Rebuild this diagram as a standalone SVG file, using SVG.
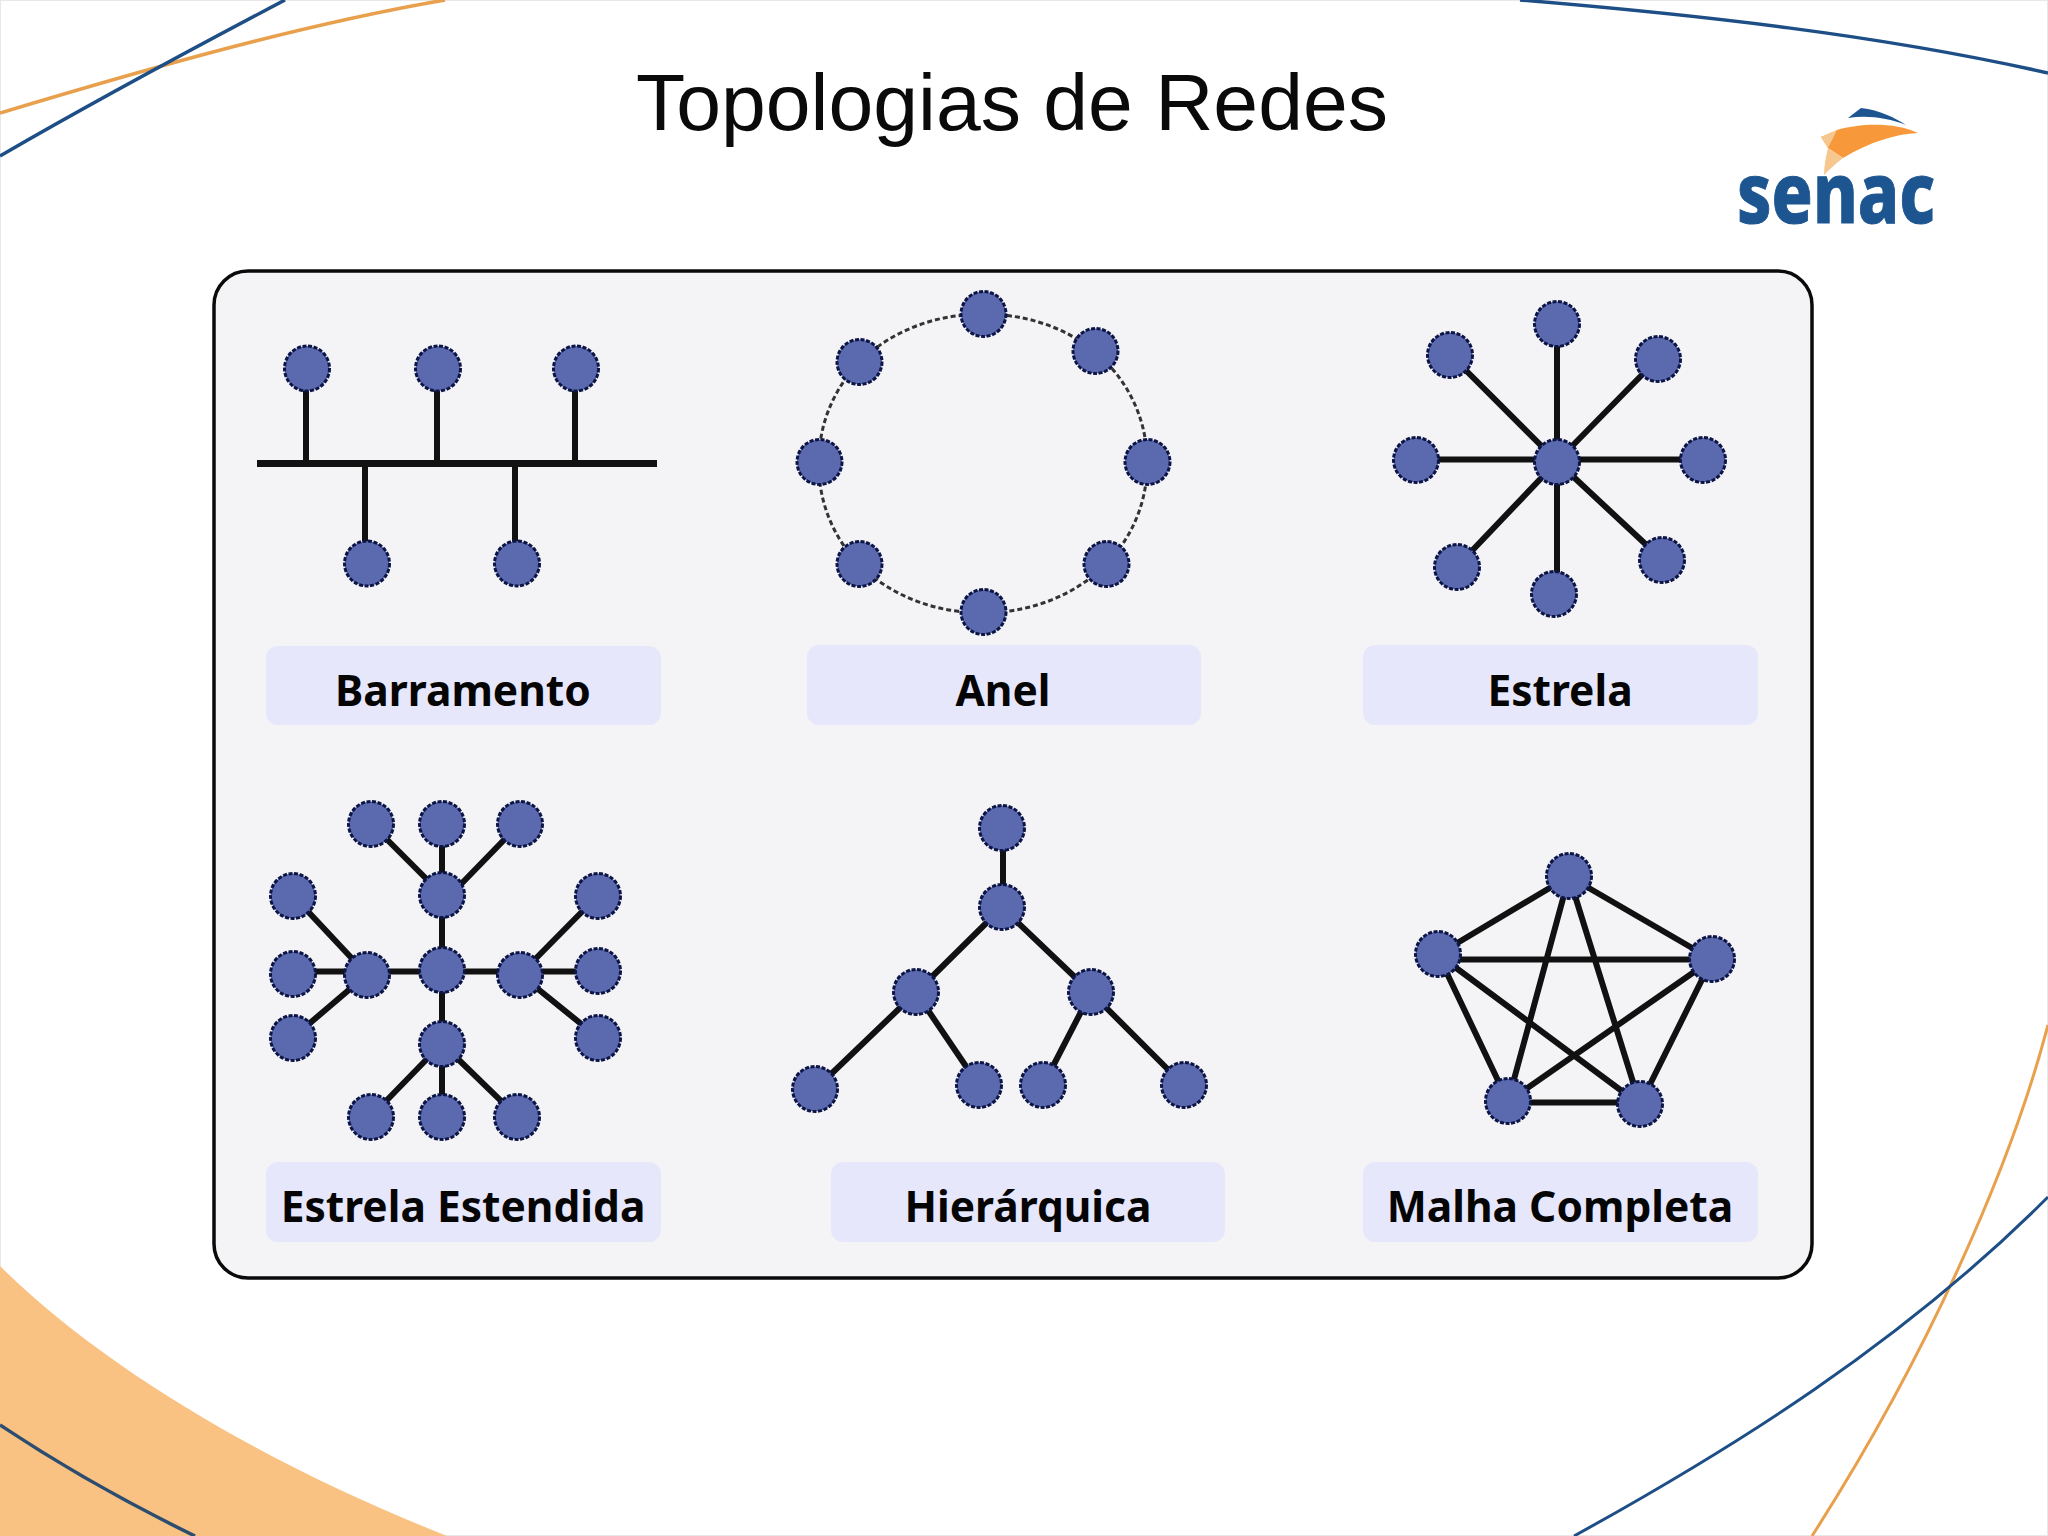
<svg xmlns="http://www.w3.org/2000/svg" width="2048" height="1536" viewBox="0 0 2048 1536">
<style>
.n{fill:#5b69ae;stroke:#0c1545;stroke-width:3;stroke-dasharray:4 1.6}
.c{stroke:#111;stroke-width:6;fill:none;stroke-linecap:butt}
.r{fill:none;stroke:#333;stroke-width:3;stroke-dasharray:5 3}
.lb{fill:#e6e7fb}
.t{font-family:"Noto Sans","Open Sans",sans-serif;font-weight:700;font-size:42.5px;fill:#050505;text-anchor:middle}
.deco{fill:none;stroke-width:3.5}
.bl{stroke:#1d4f86}
.or{stroke:#e9a04c}
</style>
<rect x="0.5" y="0.5" width="2047" height="1535" fill="#fff" stroke="#e8e8e8"/>
<g id="decor">
<path d="M0 1266C110 1375 280 1470 447 1536L0 1536Z" fill="#f9c282"/>
<path class="deco" style="stroke:#2d4d70" d="M0 1425C60 1465 125 1502 195 1536"/>
<path class="deco or" d="M0 113C150 68 300 25 445 0"/>
<path class="deco bl" d="M0 156C100 98 190 50 285 0"/>
<path class="deco bl" d="M1520 0C1700 15 1880 35 2048 73"/>
<path class="deco or" style="stroke-width:3" d="M2048 1025C2010 1170 1925 1360 1812 1536"/>
<path class="deco bl" style="stroke-width:3" d="M2048 1197C1900 1345 1730 1450 1574 1536"/>
</g>
<g id="title"><text x="1012" y="130" font-family="'Liberation Sans',Arial,sans-serif" font-size="80.5" fill="#0a0a0a" text-anchor="middle">Topologias de Redes</text></g>
<g id="logo">
<path d="M1848 118L1861 108C1880 110 1895 118 1906 125C1888 118 1868 115 1848 118Z" fill="#1d5590"/>
<path d="M1821 137L1837 130C1860 123 1895 122 1918 133C1895 134 1870 142 1843 158L1828 148Z" fill="#f7993b"/>
<path d="M1821 137L1837 130L1828 148ZM1828 148L1843 158C1835 164 1829 170 1824 175C1824 165 1826 156 1828 148Z" fill="#f6c88f"/>
<text x="1737" y="223" font-family="'Noto Sans',sans-serif" font-weight="800" font-size="84" textLength="198" lengthAdjust="spacingAndGlyphs" fill="#1d5590" stroke="#1d5590" stroke-width="1">senac</text>
</g>
<rect id="panel" x="214" y="271" width="1598" height="1007" rx="34" fill="#f4f4f6" stroke="#0a0a0a" stroke-width="3.5"/>
<g id="connectors" transform="translate(0 0.5)">
<path class="c" style="stroke-width:7" d="M257 463H657"/>
<path class="c" d="M306 368V463M437 368V463M575 368V463M365 463V563M515 463V563"/>
<path class="r" d="M983 314A164 150 0 0 1 1095 351M1095 351A164 150 0 0 1 1147 462M1147 462A164 150 0 0 1 1106 564M1106 564A164 150 0 0 1 983 612M983 612A164 150 0 0 1 859 564M859 564A164 150 0 0 1 819 462M819 462A164 150 0 0 1 859 362M859 362A164 150 0 0 1 983 314"/>
<path class="c" d="M1557 461V323M1557 461L1450 354M1557 461L1658 358M1416 459H1703M1557 461L1457 566M1557 461V593M1557 461L1662 559"/>
<path class="c" d="M442 823V1116M293 971H598M371 823L442 894M520 823L449 896M293 895L367 974M293 1037L367 974M598 895L520 974M598 1037L520 974M371 1116L442 1043M517 1116L442 1043"/>
<path class="c" d="M1003 828V907M1002 907L916 992M1002 907L1091 992M916 992L815 1089M916 992L979 1085M1091 992L1043 1085M1091 992L1184 1085"/>
<path class="c" d="M1569 876L1438 954M1569 876L1712 959M1438 959H1712M1438 954L1508 1101M1438 954L1640 1104M1569 876L1508 1101M1569 876L1640 1104M1712 959L1508 1101M1712 959L1640 1104M1508 1102H1640"/>
</g>
<g id="bus-nodes" transform="translate(0 0.5)">
<g id="bus-1"><circle class="n" cx="307" cy="368" r="22.5"/></g>
<g id="bus-2"><circle class="n" cx="438" cy="368" r="22.5"/></g>
<g id="bus-3"><circle class="n" cx="576" cy="368" r="22.5"/></g>
<g id="bus-4"><circle class="n" cx="367" cy="563" r="22.5"/></g>
<g id="bus-5"><circle class="n" cx="517" cy="563" r="22.5"/></g>
</g>
<g id="ring-nodes" transform="translate(0.5 1)">
<g id="ring-1"><circle class="n" cx="983" cy="313" r="22.5"/></g>
<g id="ring-2"><circle class="n" cx="1095" cy="350" r="22.5"/></g>
<g id="ring-3"><circle class="n" cx="1147" cy="461" r="22.5"/></g>
<g id="ring-4"><circle class="n" cx="1106" cy="563" r="22.5"/></g>
<g id="ring-5"><circle class="n" cx="983" cy="611" r="22.5"/></g>
<g id="ring-6"><circle class="n" cx="859" cy="563" r="22.5"/></g>
<g id="ring-7"><circle class="n" cx="819" cy="461" r="22.5"/></g>
<g id="ring-8"><circle class="n" cx="859" cy="361" r="22.5"/></g>
</g>
<g id="star-nodes" transform="translate(0 1)">
<g id="star-c"><circle class="n" cx="1557" cy="461" r="22.5"/></g>
<g id="star-1"><circle class="n" cx="1557" cy="323" r="22.5"/></g>
<g id="star-2"><circle class="n" cx="1450" cy="354" r="22.5"/></g>
<g id="star-3"><circle class="n" cx="1658" cy="358" r="22.5"/></g>
<g id="star-4"><circle class="n" cx="1416" cy="459" r="22.5"/></g>
<g id="star-5"><circle class="n" cx="1703" cy="459" r="22.5"/></g>
<g id="star-6"><circle class="n" cx="1457" cy="566" r="22.5"/></g>
<g id="star-7"><circle class="n" cx="1554" cy="593" r="22.5"/></g>
<g id="star-8"><circle class="n" cx="1662" cy="559" r="22.5"/></g>
</g>
<g id="ext-nodes" transform="translate(0 1)">
<g id="ext-c"><circle class="n" cx="442" cy="969" r="22.5"/></g>
<g id="ext-t"><circle class="n" cx="442" cy="894" r="22.5"/></g>
<g id="ext-b"><circle class="n" cx="442" cy="1043" r="22.5"/></g>
<g id="ext-l"><circle class="n" cx="367" cy="974" r="22.5"/></g>
<g id="ext-r"><circle class="n" cx="520" cy="974" r="22.5"/></g>
<g id="ext-t1"><circle class="n" cx="371" cy="823" r="22.5"/></g>
<g id="ext-t2"><circle class="n" cx="442" cy="823" r="22.5"/></g>
<g id="ext-t3"><circle class="n" cx="520" cy="823" r="22.5"/></g>
<g id="ext-l1"><circle class="n" cx="293" cy="895" r="22.5"/></g>
<g id="ext-l2"><circle class="n" cx="293" cy="973" r="22.5"/></g>
<g id="ext-l3"><circle class="n" cx="293" cy="1037" r="22.5"/></g>
<g id="ext-r1"><circle class="n" cx="598" cy="895" r="22.5"/></g>
<g id="ext-r2"><circle class="n" cx="598" cy="970" r="22.5"/></g>
<g id="ext-r3"><circle class="n" cx="598" cy="1037" r="22.5"/></g>
<g id="ext-b1"><circle class="n" cx="371" cy="1116" r="22.5"/></g>
<g id="ext-b2"><circle class="n" cx="442" cy="1116" r="22.5"/></g>
<g id="ext-b3"><circle class="n" cx="517" cy="1116" r="22.5"/></g>
</g>
<g id="tree-nodes">
<g id="tree-1"><circle class="n" cx="1002" cy="828" r="22.5"/></g>
<g id="tree-2"><circle class="n" cx="1002" cy="907" r="22.5"/></g>
<g id="tree-3"><circle class="n" cx="916" cy="992" r="22.5"/></g>
<g id="tree-4"><circle class="n" cx="1091" cy="992" r="22.5"/></g>
<g id="tree-5"><circle class="n" cx="815" cy="1089" r="22.5"/></g>
<g id="tree-6"><circle class="n" cx="979" cy="1085" r="22.5"/></g>
<g id="tree-7"><circle class="n" cx="1043" cy="1085" r="22.5"/></g>
<g id="tree-8"><circle class="n" cx="1184" cy="1085" r="22.5"/></g>
</g>
<g id="mesh-nodes">
<g id="mesh-1"><circle class="n" cx="1569" cy="876" r="22.5"/></g>
<g id="mesh-2"><circle class="n" cx="1438" cy="954" r="22.5"/></g>
<g id="mesh-3"><circle class="n" cx="1712" cy="959" r="22.5"/></g>
<g id="mesh-4"><circle class="n" cx="1508" cy="1101" r="22.5"/></g>
<g id="mesh-5"><circle class="n" cx="1640" cy="1104" r="22.5"/></g>
</g>
<g id="label-barramento"><rect class="lb" x="266" y="646" width="395" height="79" rx="12"/><text class="t" x="463" y="705.5">Barramento</text></g>
<g id="label-anel"><rect class="lb" x="807" y="645" width="394" height="80" rx="12"/><text class="t" x="1003" y="705.5">Anel</text></g>
<g id="label-estrela"><rect class="lb" x="1363" y="645" width="395" height="80" rx="12"/><text class="t" x="1560" y="705.5">Estrela</text></g>
<g id="label-estendida"><rect class="lb" x="266" y="1162" width="395" height="80" rx="12"/><text class="t" x="463" y="1221.5">Estrela Estendida</text></g>
<g id="label-hierarquica"><rect class="lb" x="831" y="1162" width="394" height="80" rx="12"/><text class="t" x="1028" y="1221.5">Hierárquica</text></g>
<g id="label-malha"><rect class="lb" x="1363" y="1162" width="395" height="80" rx="12"/><text class="t" x="1560" y="1221.5">Malha Completa</text></g>
</svg>
